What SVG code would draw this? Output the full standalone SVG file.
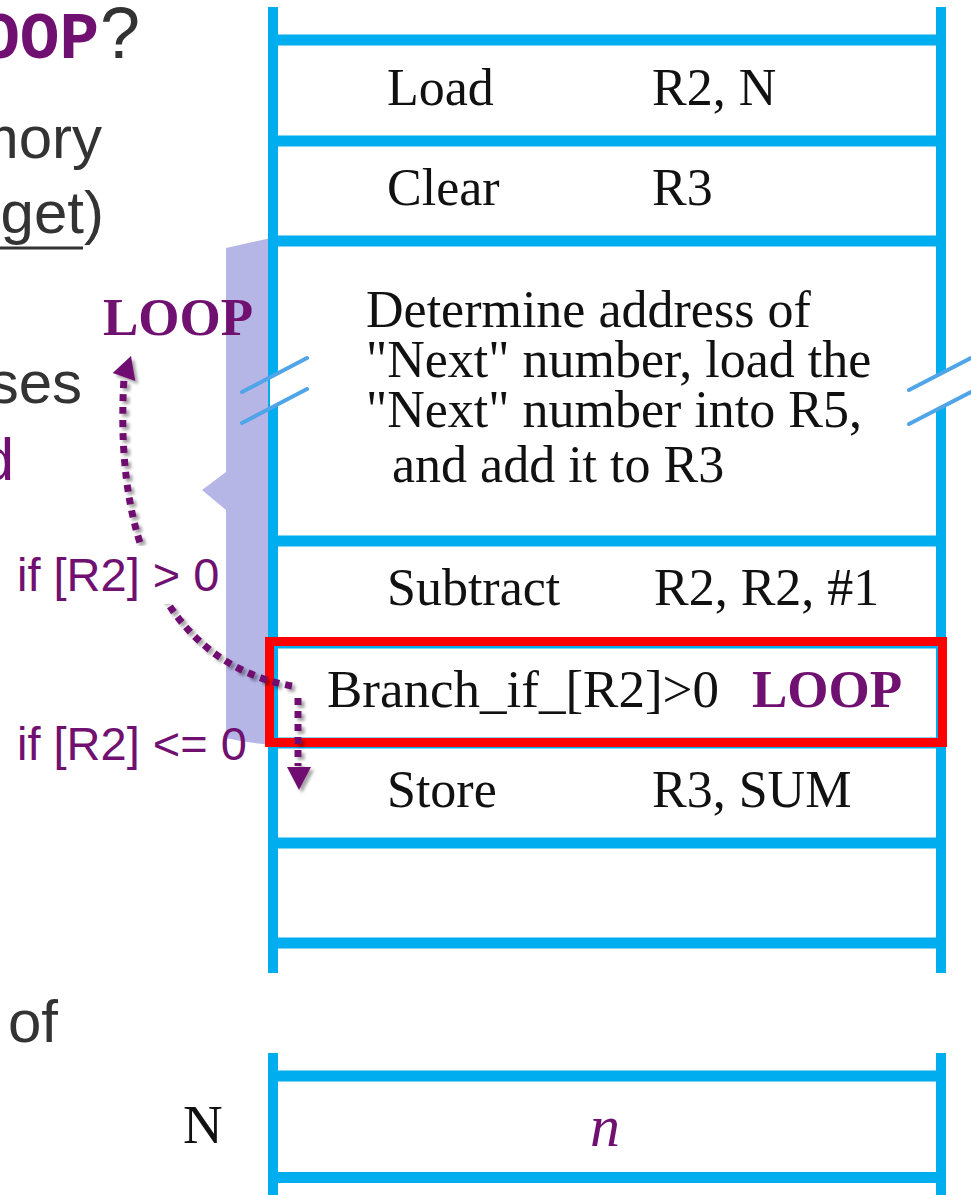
<svg xmlns="http://www.w3.org/2000/svg" width="971" height="1195" viewBox="0 0 971 1195">
<defs>
<style>
.vb{stroke:#00ADEF;stroke-width:10;fill:none}
.hb{stroke:#00ADEF;stroke-width:11;fill:none}
.instr{font-family:"Liberation Serif","Times New Roman",serif;font-size:52px;fill:#111}
.loop{font-family:"Liberation Serif","Times New Roman",serif;font-weight:bold;font-size:53px;fill:#701070}
.body{font-family:"Liberation Sans",Arial,sans-serif;font-size:60px;fill:#333}
.cond{font-family:"Liberation Sans",Arial,sans-serif;font-size:47px;fill:#701070}
.dot{stroke:#701070;stroke-width:7;fill:none;stroke-dasharray:7 6}
.brk{stroke:#4FA5E8;stroke-width:4;stroke-linecap:round}
</style>
<filter id="sh" x="-20%" y="-20%" width="140%" height="140%">
<feDropShadow dx="3" dy="3" stdDeviation="1.5" flood-color="#000" flood-opacity="0.35"/>
</filter>
</defs>
<rect width="971" height="1195" fill="#fff"/>

<g id="side-text">
<text x="99" y="58" text-anchor="end" style="font-family:'Courier New','Liberation Mono',monospace;font-weight:bold;font-size:66px;fill:#701070">OOP</text>
<text x="100" y="58" style="font-family:'Liberation Sans',Arial,sans-serif;font-size:72px;fill:#333">?</text>
<text class="body" x="102" y="158" text-anchor="end">mory</text>
<text class="body" x="104" y="233" text-anchor="end">get)</text>
<line x1="0" y1="248" x2="83" y2="248" stroke="#333" stroke-width="3"/>
<text class="body" x="82" y="403" text-anchor="end">ses</text>
<text class="body" x="14" y="480" text-anchor="end" style="fill:#701070">d</text>
<text class="body" x="8" y="1042">of</text>
</g>

<g id="brace">
<path d="M226,248 L271,238 L271,745 Q248,743 226,738 L226,510 L202,490 L226,472 Z" fill="#B5B6E6"/>
</g>

<g id="memory-column">
<line class="vb" x1="273" y1="7" x2="273" y2="973"/>
<line class="vb" x1="941" y1="7" x2="941" y2="973"/>
<line class="hb" x1="273" y1="40" x2="941" y2="40"/>
<line class="hb" x1="273" y1="141" x2="941" y2="141"/>
<line class="hb" x1="273" y1="241" x2="941" y2="241"/>
<line class="hb" x1="273" y1="541" x2="941" y2="541"/>
<line class="hb" x1="273" y1="643" x2="941" y2="643"/>
<line class="hb" x1="273" y1="743" x2="941" y2="743"/>
<line class="hb" x1="273" y1="843" x2="941" y2="843"/>
<line class="hb" x1="273" y1="943" x2="941" y2="943"/>
<polygon points="270,377.5 280,372.3 280,403.3 270,408.5" fill="#fff"/>
<polygon points="935,377.2 947,371 947,405 935,411.2" fill="#fff"/>
<line class="brk" x1="242" y1="392" x2="307" y2="358"/>
<line class="brk" x1="242" y1="423" x2="307" y2="389"/>
<line class="brk" x1="909" y1="390" x2="975" y2="356"/>
<line class="brk" x1="909" y1="424" x2="975" y2="390"/>
</g>

<g id="data-column">
<line class="vb" x1="273" y1="1053" x2="273" y2="1195"/>
<line class="vb" x1="941" y1="1053" x2="941" y2="1195"/>
<line class="hb" x1="273" y1="1076" x2="941" y2="1076"/>
<line class="hb" x1="273" y1="1177.5" x2="941" y2="1177.5"/>
</g>

<g id="row-load"><text class="instr" x="387" y="105">Load</text><text class="instr" x="652" y="105">R2, N</text></g>
<g id="row-clear"><text class="instr" x="387" y="205">Clear</text><text class="instr" x="652" y="205">R3</text></g>
<g id="row-loop-body">
<text class="instr"><tspan x="366" y="327">Determine address of</tspan><tspan x="366" y="377">"Next" number, load the</tspan><tspan x="366" y="427">"Next" number into R5,</tspan><tspan x="392" y="482">and add it to R3</tspan></text>
</g>
<g id="row-subtract"><text class="instr" x="387" y="605">Subtract</text><text class="instr" x="654" y="605">R2, R2, #1</text></g>
<g id="row-branch">
<text class="instr" x="327" y="707" style="font-size:53px">Branch_if_[R2]&gt;0</text>
<text class="loop" x="752" y="707">LOOP</text>
<rect x="269.5" y="641.5" width="673" height="101" fill="none" stroke="#FF0000" stroke-width="9"/>
</g>
<g id="row-store"><text class="instr" x="387" y="807">Store</text><text class="instr" x="652" y="807">R3, SUM</text></g>
<g id="row-n">
<text x="183" y="1143" style="font-family:'Liberation Serif','Times New Roman',serif;font-size:55px;fill:#111">N</text>
<text x="590" y="1146" style="font-family:'Liberation Serif','Times New Roman',serif;font-style:italic;font-size:60px;fill:#701070">n</text>
</g>

<g id="label-loop"><text class="loop" x="103" y="335">LOOP</text></g>

<g id="connectors" filter="url(#sh)">
<path class="dot" d="M292,686 C190,668 112,575 124,378"/>
<polygon points="131,356 112.7,373 135.3,381" fill="#701070"/>
<path class="dot" d="M298,698 L298,766"/>
<polygon points="287,767 311,767 299,790" fill="#701070"/>
</g>

<g id="label-true">
<rect x="12" y="546" width="212" height="58" fill="#fff"/>
<text class="cond" x="17" y="591">if [R2] &gt; 0</text>
</g>
<g id="label-false"><text class="cond" x="17" y="760">if [R2] &lt;= 0</text></g>
</svg>
